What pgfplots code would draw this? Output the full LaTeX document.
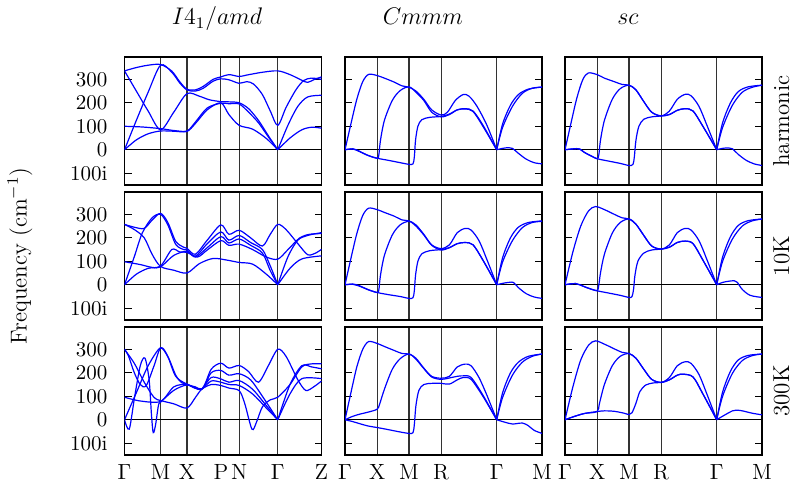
\documentclass[border=0pt]{standalone}
\usepackage{pgfplots}
\pgfplotsset{compat=1.18}
\begin{document}
\begin{tikzpicture}
\pgfplotsset{
  panel/.style={scale only axis, width=98.5pt, height=64pt, xmin=0, xmax=1, ymin=-150, ymax=395,
    axis line style={line width=0.9pt}, ytick={-100,0,100,200,300}, yticklabels={},
    tick align=inside, ytick pos=both, major tick length=3.5pt, major tick style={line width=0.6pt, black},
    xmajorgrids, grid style={black!80, line width=0.55pt},
    xtick style={draw=none}, xticklabels={},
    extra y ticks={0}, extra y tick labels={},
    extra y tick style={grid=major, major grid style={black, line width=0.55pt}},
    tick label style={font=\fontsize{10.5}{12}\selectfont},
    xticklabel style={font=\fontsize{11}{13}\selectfont, yshift=-1pt},
    every axis plot post/.append style={blue, solid, line width=0.6pt, smooth, tension=0.5, mark=none},
  },
  colA/.style={xtick={0,0.183,0.317,0.489,0.582,0.778,1}},
  colB/.style={xtick={0,0.163,0.325,0.488,0.770,1}},
  labA/.style={xticklabels={$\Gamma$,M,X,P,N,$\Gamma$,Z}},
  labB/.style={xticklabels={$\Gamma$,X,M,R,$\Gamma$,M}},
  ylab/.style={yticklabels={100i,0,100,200,300}, yticklabel style={xshift=-5pt}},
}
% ---------------- Row 1: harmonic ----------------
\begin{axis}[panel, colA, ylab, at={(62.25pt,151pt)}, anchor=south west]
\addplot coordinates {(0,336) (0.06,350) (0.12,360) (0.183,363) (0.24,335) (0.28,290) (0.317,258) (0.36,255) (0.40,270) (0.45,300) (0.489,310) (0.53,320) (0.582,312) (0.62,318) (0.70,330) (0.778,336) (0.84,320) (0.9,296) (0.93,287) (0.965,300) (1,310)};
\addplot coordinates {(0,0) (0.06,125) (0.12,245) (0.183,360) (0.24,330) (0.28,285) (0.317,255) (0.36,250) (0.40,262) (0.45,292) (0.489,302) (0.53,298) (0.582,283) (0.62,290) (0.655,280) (0.70,235) (0.74,165) (0.778,104) (0.82,180) (0.87,255) (0.91,295) (0.95,305) (1,300)};
\addplot coordinates {(0,336) (0.06,250) (0.12,165) (0.183,85) (0.25,160) (0.317,239) (0.38,228) (0.43,213) (0.489,205) (0.53,204) (0.582,200) (0.63,175) (0.68,125) (0.73,60) (0.778,0)};
\addplot coordinates {(0.778,0) (0.83,105) (0.88,185) (0.93,225) (1,232)};
\addplot coordinates {(0,100) (0.09,97) (0.183,90) (0.25,82) (0.317,80) (0.36,118) (0.42,178) (0.489,198) (0.53,196) (0.582,195) (0.63,160) (0.68,115) (0.73,55) (0.778,0)};
\addplot coordinates {(0.778,0) (0.84,50) (0.9,85) (0.95,96) (1,92)};
\addplot coordinates {(0,0) (0.06,42) (0.12,68) (0.183,80) (0.25,79) (0.317,78) (0.36,112) (0.42,170) (0.489,200) (0.53,150) (0.582,104) (0.65,88) (0.72,48) (0.778,0)};
\end{axis}
\begin{axis}[panel, colB, at={(172.5pt,151pt)}, anchor=south west]
\addplot coordinates {(0,0) (0.03,110) (0.06,215) (0.09,290) (0.12,321) (0.163,316) (0.2,305) (0.25,288) (0.29,272) (0.325,266) (0.36,250) (0.4,215) (0.44,170) (0.488,148) (0.52,160) (0.56,210) (0.6,235) (0.63,228) (0.67,185) (0.72,105) (0.77,0)};
\addplot coordinates {(0.77,0) (0.8,110) (0.84,190) (0.88,235) (0.93,258) (1,267)};
\addplot coordinates {(0,0) (0.04,4) (0.07,-5) (0.11,-22) (0.163,-36) (0.172,-20) (0.18,40) (0.2,125) (0.24,210) (0.28,252) (0.325,268) (0.36,245) (0.4,210) (0.44,160) (0.488,140) (0.53,150) (0.57,170) (0.61,175) (0.65,165) (0.7,105) (0.77,0)};
\addplot coordinates {(0.77,0) (0.8,95) (0.85,185) (0.9,240) (0.95,262) (1,267)};
\addplot coordinates {(0,0) (0.04,3) (0.08,-10) (0.12,-25) (0.163,-36) (0.22,-45) (0.28,-55) (0.325,-62) (0.345,-60) (0.352,-30) (0.358,40) (0.37,100) (0.39,128) (0.43,138) (0.488,142) (0.53,152) (0.57,170) (0.61,174) (0.65,163) (0.7,100) (0.77,0)};
\addplot coordinates {(0.77,0) (0.8,6) (0.83,9) (0.85,6) (0.88,-15) (0.92,-40) (0.96,-55) (1,-60)};
\end{axis}
\begin{axis}[panel, colB, at={(282.5pt,151pt)}, anchor=south west]
\addplot coordinates {(0,0) (0.03,112) (0.06,220) (0.09,298) (0.118,327) (0.163,320) (0.2,305) (0.25,290) (0.29,278) (0.325,275) (0.36,255) (0.4,205) (0.44,160) (0.488,144) (0.53,165) (0.57,215) (0.61,236) (0.64,230) (0.68,185) (0.72,105) (0.77,0)};
\addplot coordinates {(0.77,0) (0.8,115) (0.84,200) (0.88,248) (0.93,268) (1,275)};
\addplot coordinates {(0,0) (0.03,3) (0.06,5) (0.075,3) (0.1,-12) (0.13,-25) (0.163,-38) (0.172,-20) (0.18,40) (0.2,125) (0.24,215) (0.28,260) (0.325,275) (0.36,255) (0.4,205) (0.44,160) (0.488,144) (0.53,150) (0.57,168) (0.61,175) (0.65,165) (0.7,100) (0.77,0)};
\addplot coordinates {(0.77,0) (0.8,95) (0.85,190) (0.9,245) (0.95,266) (1,275)};
\addplot coordinates {(0,0) (0.03,3) (0.06,5) (0.075,3) (0.1,-12) (0.13,-25) (0.163,-38) (0.22,-48) (0.28,-58) (0.325,-67) (0.345,-62) (0.352,-30) (0.36,40) (0.375,100) (0.4,130) (0.44,140) (0.488,144) (0.53,150) (0.57,168) (0.61,175) (0.65,165) (0.7,100) (0.77,0)};
\addplot coordinates {(0.77,0) (0.8,6) (0.83,8) (0.85,4) (0.88,-20) (0.92,-45) (0.96,-60) (1,-67)};
\end{axis}
% ---------------- Row 2: 10K ----------------
\begin{axis}[panel, colA, ylab, at={(62.25pt,83.5pt)}, anchor=south west]
\addplot coordinates {(0,257) (0.05,245) (0.10,240) (0.14,275) (0.183,304) (0.22,265) (0.26,185) (0.30,160) (0.317,155) (0.36,130) (0.42,190) (0.489,255) (0.53,215) (0.582,232) (0.64,200) (0.70,165) (0.74,215) (0.778,257) (0.82,235) (0.88,175) (0.93,128) (0.97,135) (1,151)};
\addplot coordinates {(0,257) (0.05,235) (0.10,200) (0.14,130) (0.183,78) (0.25,62) (0.317,50) (0.38,90) (0.45,112) (0.52,105) (0.582,95) (0.65,88) (0.72,45) (0.778,0)};
\addplot coordinates {(0.778,0) (0.84,70) (0.9,110) (1,123)};
\addplot coordinates {(0,0) (0.05,120) (0.09,220) (0.14,285) (0.183,300) (0.22,255) (0.26,172) (0.30,150) (0.317,148) (0.36,122) (0.42,175) (0.489,225) (0.53,190) (0.582,210) (0.64,180) (0.70,150) (0.74,80) (0.778,0)};
\addplot coordinates {(0.778,0) (0.83,120) (0.88,190) (0.93,210) (1,222)};
\addplot coordinates {(0,98) (0.08,86) (0.14,74) (0.183,76) (0.25,125) (0.317,142) (0.36,118) (0.42,158) (0.489,205) (0.53,178) (0.582,195) (0.64,168) (0.70,135) (0.74,60) (0.778,0)};
\addplot coordinates {(0,0) (0.06,45) (0.12,70) (0.183,80) (0.24,150) (0.28,140) (0.317,138) (0.37,118) (0.42,148) (0.489,188) (0.53,168) (0.582,173) (0.65,150) (0.72,118) (0.778,109) (0.83,150) (0.89,200) (0.94,215) (1,218)};
\end{axis}
\begin{axis}[panel, colB, at={(172.5pt,83.5pt)}, anchor=south west]
\addplot coordinates {(0,0) (0.03,112) (0.06,218) (0.09,295) (0.12,326) (0.163,320) (0.2,308) (0.25,292) (0.29,276) (0.325,272) (0.36,255) (0.4,215) (0.44,170) (0.488,154) (0.53,170) (0.57,222) (0.61,240) (0.64,233) (0.68,188) (0.72,108) (0.77,0)};
\addplot coordinates {(0.77,0) (0.8,115) (0.84,200) (0.88,245) (0.93,265) (1,272)};
\addplot coordinates {(0,0) (0.04,3) (0.07,-3) (0.11,-18) (0.163,-33) (0.172,-20) (0.18,40) (0.2,125) (0.24,212) (0.28,255) (0.325,270) (0.36,250) (0.4,212) (0.44,168) (0.488,148) (0.53,158) (0.57,175) (0.61,180) (0.65,170) (0.7,105) (0.77,0)};
\addplot coordinates {(0.77,0) (0.8,97) (0.85,188) (0.9,243) (0.95,265) (1,270)};
\addplot coordinates {(0,0) (0.04,2) (0.08,-8) (0.12,-22) (0.163,-33) (0.22,-42) (0.28,-50) (0.325,-58) (0.345,-55) (0.352,-25) (0.358,40) (0.37,100) (0.39,132) (0.43,145) (0.488,150) (0.53,158) (0.57,175) (0.61,180) (0.65,170) (0.7,105) (0.77,0)};
\addplot coordinates {(0.77,0) (0.8,6) (0.83,10) (0.855,10) (0.88,-12) (0.92,-38) (0.96,-52) (1,-58)};
\end{axis}
\begin{axis}[panel, colB, at={(282.5pt,83.5pt)}, anchor=south west]
\addplot coordinates {(0,0) (0.04,140) (0.08,250) (0.12,315) (0.155,333) (0.2,320) (0.25,300) (0.29,285) (0.325,280) (0.36,258) (0.4,210) (0.44,165) (0.488,152) (0.53,170) (0.57,222) (0.61,240) (0.64,233) (0.68,188) (0.72,108) (0.77,0)};
\addplot coordinates {(0.77,0) (0.8,118) (0.84,205) (0.88,253) (0.93,273) (1,280)};
\addplot coordinates {(0,0) (0.03,4) (0.055,5) (0.075,0) (0.11,-12) (0.16,-25) (0.17,-10) (0.18,50) (0.2,130) (0.24,220) (0.28,265) (0.325,280) (0.36,258) (0.4,210) (0.44,165) (0.488,152) (0.53,160) (0.57,180) (0.61,186) (0.65,175) (0.7,105) (0.77,0)};
\addplot coordinates {(0.77,0) (0.8,100) (0.85,195) (0.9,250) (0.95,272) (1,280)};
\addplot coordinates {(0,0) (0.03,4) (0.055,5) (0.075,0) (0.11,-12) (0.16,-25) (0.22,-35) (0.28,-45) (0.325,-54) (0.34,-50) (0.348,-20) (0.355,40) (0.37,100) (0.4,135) (0.44,148) (0.488,152) (0.53,160) (0.57,180) (0.61,186) (0.65,175) (0.7,105) (0.77,0)};
\addplot coordinates {(0.77,0) (0.8,10) (0.83,15) (0.86,17) (0.875,10) (0.9,-20) (0.94,-45) (1,-54)};
\end{axis}
% ---------------- Row 3: 300K ----------------
\begin{axis}[panel, colA, ylab, labA, at={(62.25pt,16pt)}, anchor=south west]
\addplot coordinates {(0,300) (0.05,240) (0.1,160) (0.15,95) (0.183,82) (0.25,68) (0.317,50) (0.36,95) (0.392,130) (0.44,150) (0.489,146) (0.53,135) (0.582,124) (0.61,70) (0.647,-40) (0.67,-10) (0.70,55) (0.74,85) (0.778,96) (0.84,150) (0.9,225) (0.95,238) (1,238)};
\addplot coordinates {(0,0) (0.024,-40) (0.05,90) (0.08,230) (0.104,262) (0.125,170) (0.137,20) (0.146,-55) (0.158,-20) (0.172,60) (0.183,75) (0.25,125) (0.30,145) (0.317,148) (0.36,140) (0.392,131) (0.44,165) (0.489,160) (0.53,150) (0.582,146) (0.65,110) (0.72,50) (0.778,0)};
\addplot coordinates {(0.778,0) (0.84,110) (0.9,175) (1,175)};
\addplot coordinates {(0,0) (0.06,115) (0.12,230) (0.183,307) (0.22,270) (0.26,190) (0.29,158) (0.317,152) (0.36,135) (0.392,131) (0.44,180) (0.489,174) (0.53,160) (0.582,167) (0.65,130) (0.72,60) (0.778,0)};
\addplot coordinates {(0.778,0) (0.84,150) (0.9,230) (0.95,225) (1,217)};
\addplot coordinates {(0,96) (0.08,80) (0.183,78) (0.25,140) (0.317,150) (0.392,131) (0.44,200) (0.489,210) (0.53,190) (0.582,196) (0.64,170) (0.7,100) (0.778,0)};
\addplot coordinates {(0,300) (0.02,272) (0.05,200) (0.08,150) (0.11,145) (0.15,230) (0.183,305) (0.22,268) (0.26,185) (0.317,152) (0.392,131) (0.44,215) (0.489,241) (0.53,220) (0.582,231) (0.63,205) (0.68,160) (0.73,230) (0.778,300) (0.82,270) (0.88,170) (0.92,125) (0.96,140) (1,165)};
\end{axis}
\begin{axis}[panel, colB, labB, at={(172.5pt,16pt)}, anchor=south west]
\addplot coordinates {(0,0) (0.03,115) (0.06,225) (0.09,300) (0.12,333) (0.163,325) (0.2,312) (0.25,295) (0.29,282) (0.325,280) (0.36,262) (0.4,220) (0.44,185) (0.488,177) (0.53,185) (0.57,225) (0.61,237) (0.64,230) (0.68,180) (0.72,105) (0.77,0)};
\addplot coordinates {(0.77,0) (0.8,115) (0.84,200) (0.88,245) (0.93,270) (1,280)};
\addplot coordinates {(0,0) (0.04,15) (0.08,25) (0.12,33) (0.163,45) (0.175,65) (0.2,130) (0.24,215) (0.28,260) (0.325,280) (0.36,258) (0.4,218) (0.44,182) (0.488,172) (0.53,178) (0.57,185) (0.6,187) (0.64,180) (0.7,105) (0.77,0)};
\addplot coordinates {(0.77,0) (0.8,95) (0.85,190) (0.9,245) (0.95,270) (1,280)};
\addplot coordinates {(0,0) (0.04,-8) (0.08,-18) (0.12,-27) (0.163,-33) (0.22,-42) (0.28,-52) (0.325,-58) (0.345,-55) (0.352,-20) (0.36,60) (0.375,125) (0.4,150) (0.44,155) (0.488,155) (0.53,152) (0.57,170) (0.6,180) (0.64,172) (0.7,100) (0.77,0)};
\addplot coordinates {(0.77,0) (0.81,-10) (0.85,-18) (0.9,-14) (0.93,-25) (0.96,-45) (1,-58)};
\end{axis}
\begin{axis}[panel, colB, labB, at={(282.5pt,16pt)}, anchor=south west]
\addplot coordinates {(0,0) (0.04,140) (0.08,255) (0.12,318) (0.155,336) (0.2,322) (0.25,302) (0.29,287) (0.325,282) (0.36,262) (0.4,215) (0.44,172) (0.488,159) (0.53,180) (0.57,230) (0.61,247) (0.64,240) (0.68,193) (0.72,110) (0.77,0)};
\addplot coordinates {(0.77,0) (0.8,118) (0.84,207) (0.88,255) (0.93,274) (1,280)};
\addplot coordinates {(0,0) (0.05,15) (0.1,27) (0.163,35) (0.175,70) (0.2,150) (0.24,230) (0.28,270) (0.325,282) (0.36,262) (0.4,215) (0.44,172) (0.488,159) (0.53,170) (0.57,190) (0.6,194) (0.65,182) (0.7,110) (0.77,0)};
\addplot coordinates {(0.77,0) (0.8,100) (0.85,198) (0.9,252) (0.95,273) (1,280)};
\addplot coordinates {(0,0) (0.05,15) (0.1,27) (0.163,35) (0.2,38) (0.25,36) (0.3,28) (0.325,22) (0.34,30) (0.36,70) (0.38,120) (0.41,148) (0.45,157) (0.488,159) (0.53,170) (0.57,190) (0.6,194) (0.65,182) (0.7,110) (0.77,0)};
\addplot coordinates {(0.77,0) (0.81,20) (0.85,38) (0.87,41) (0.9,38) (0.95,28) (1,21)};
\end{axis}
% ---------------- labels ----------------
\node[font=\fontsize{11.5}{13}\selectfont, anchor=base] at (108.5pt,231pt) {$I4_1/amd$};
\node[font=\fontsize{11.5}{13}\selectfont, anchor=base] at (211.5pt,231pt) {$Cmmm$};
\node[font=\fontsize{11.5}{13}\selectfont, anchor=base] at (314pt,231pt) {$sc$};
\node[font=\fontsize{11.5}{13}\selectfont, rotate=90, anchor=base] at (394.5pt,183pt) {harmonic};
\node[font=\fontsize{11.5}{13}\selectfont, rotate=90, anchor=base] at (394.5pt,115.5pt) {10K};
\node[font=\fontsize{11.5}{13}\selectfont, rotate=90, anchor=base] at (394.5pt,48pt) {300K};
\node[font=\fontsize{11.5}{13}\selectfont, rotate=90] at (10pt,115.5pt) {Frequency (cm$^{-1}$)};
\pgfresetboundingbox
\path[use as bounding box] (0,0) rectangle (396pt,243.5pt);
\end{tikzpicture}
\end{document}
